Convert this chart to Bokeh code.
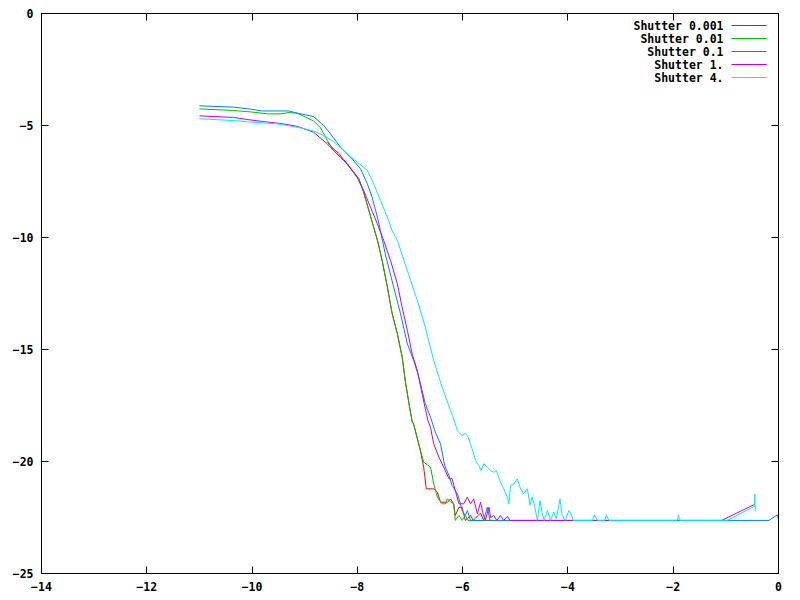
from bokeh.plotting import figure
from bokeh.models import Range1d, FixedTicker, LinearAxis
from bokeh.core.properties import value
from bokeh.embed import file_html
from bokeh.resources import INLINE

series_names = ["Shutter 0.001", "Shutter 0.01", "Shutter 0.1", "Shutter 1.", "Shutter 4."]
series_colors = ["#ff0000", "#00c000", "#0080ff", "#c000ff", "#00eeee"]

x_ticks = [-14, -12, -10, -8, -6, -4, -2, 0]
y_ticks = [-25, -20, -15, -10, -5, 0]

red_x = [-8.57, -8.45, -8.35, -8.26, -8.10, -7.97, -7.89, -7.80, -7.72, -7.62, -7.53, -7.43,
         -7.34, -7.24, -7.15, -7.09, -7.02, -6.96, -6.93, -6.80, -6.74, -6.69, -6.55, -6.48,
         -6.42, -6.29, -6.23, -6.17, -6.14, -6.07, -6.01, -5.98, -5.95, -5.85, -5.80, -5.66,
         -5.60, -5.40]
red_y = [-5.75, -6.05, -6.25, -6.52, -6.98, -7.40, -7.92, -8.62, -9.30, -10.10, -11.00, -12.20,
         -13.38, -14.30, -15.30, -16.40, -17.40, -18.20, -18.35, -19.55, -20.25, -21.22, -21.22, -21.37,
         -21.82, -21.82, -21.67, -21.89, -22.41, -22.04, -22.04, -22.34, -22.63, -22.40, -22.63, -22.30,
         -22.63, -22.63]

green_x = [-11.00, -10.35, -10.00, -9.70, -9.45, -9.30, -9.14, -8.98, -8.83, -8.70, -8.57, -8.45,
           -8.26, -8.10, -7.97, -7.89, -7.80, -7.72, -7.62, -7.53, -7.43, -7.34, -7.24, -7.15,
           -7.09, -7.02, -6.96, -6.93, -6.80, -6.74, -6.67, -6.61, -6.55, -6.48, -6.39, -6.33,
           -6.29, -6.23, -6.17, -6.14, -6.07, -6.01, -5.95, -5.90, -5.50]
green_y = [-4.26, -4.33, -4.40, -4.48, -4.48, -4.42, -4.45, -4.63, -4.80, -5.10, -5.67, -6.12,
           -6.56, -7.00, -7.38, -7.90, -8.65, -9.30, -10.13, -11.03, -12.22, -13.40, -14.30, -15.34,
           -16.38, -17.42, -18.20, -18.32, -19.51, -20.03, -20.15, -20.25, -21.00, -21.59, -21.89, -21.89,
           -21.67, -21.80, -21.89, -22.63, -22.41, -22.63, -22.41, -22.63, -22.63]

blue_x = [-11.00, -10.35, -10.03, -9.81, -9.30, -9.14, -8.83, -8.64, -8.51, -8.32, -8.13, -7.94,
          -7.81, -7.72, -7.62, -7.59, -7.47, -7.31, -7.18, -7.05, -6.93, -6.83, -6.71, -6.61,
          -6.52, -6.42, -6.36, -6.33, -6.26, -6.20, -6.10, -6.04, -6.01, -5.95, -5.91, -5.85,
          -5.60, -5.53, -5.48, -0.18, -0.02, 0.00]
blue_y = [-4.12, -4.18, -4.27, -4.35, -4.35, -4.45, -4.60, -5.00, -5.37, -5.97, -6.41, -6.93,
          -7.60, -8.20, -9.09, -9.39, -10.73, -12.22, -13.40, -14.75, -15.49, -16.24, -17.42, -18.02,
          -18.69, -19.21, -19.96, -20.25, -20.62, -21.07, -21.44, -21.89, -22.19, -22.41, -22.19, -22.63,
          -22.63, -22.04, -22.63, -22.63, -22.38, -22.60]

magenta_x = [-11.00, -10.35, -10.10, -9.80, -9.40, -9.14, -8.83, -8.57, -8.45, -8.19, -8.00, -7.88,
             -7.75, -7.62, -7.50, -7.37, -7.24, -7.15, -7.05, -6.96, -6.86, -6.77, -6.66, -6.61,
             -6.55, -6.45, -6.36, -6.26, -6.20, -6.14, -6.07, -5.98, -5.91, -5.85, -5.79, -5.72,
             -5.66, -5.61, -5.57, -5.50, -5.47, -5.41, -5.35, -5.28, -5.22, -5.15, -5.10, -1.08,
             -0.46]
magenta_y = [-4.57, -4.64, -4.73, -4.82, -4.93, -5.04, -5.30, -5.82, -6.12, -6.71, -7.34, -7.90,
             -8.65, -9.39, -10.13, -11.03, -12.07, -13.11, -14.15, -15.19, -15.94, -16.98, -18.17, -18.47,
             -19.21, -19.81, -20.25, -20.77, -20.77, -21.29, -21.89, -21.89, -21.59, -21.89, -21.67, -22.34,
             -21.82, -22.34, -22.63, -22.04, -22.50, -22.41, -22.63, -22.41, -22.63, -22.45, -22.63, -22.63,
             -21.92]

cyan_x = [-11.00, -10.35, -10.00, -9.50, -9.05, -8.83, -8.64, -8.45, -8.19, -8.00, -7.81, -7.69,
          -7.56, -7.43, -7.34, -7.24, -7.05, -6.86, -6.71, -6.55, -6.39, -6.23, -6.17, -6.10,
          -6.01, -5.95, -5.91, -5.85, -5.79, -5.74, -5.69, -5.65, -5.60, -5.56, -5.47, -5.41,
          -5.36, -5.28, -5.22, -5.15, -5.12, -5.09, -5.03, -4.96, -4.90, -4.84, -4.77, -4.72,
          -4.68, -4.65, -4.58, -4.53, -4.49, -4.45, -4.39, -4.33, -4.27, -4.22, -4.15, -4.11,
          -4.05, -3.98, -3.94, -3.90, -3.53, -3.50, -3.44, -3.30, -3.27, -3.22, -1.92, -1.90,
          -1.88, -0.97, -0.46, -0.45, -0.44]
cyan_y = [-4.70, -4.78, -4.85, -4.93, -5.12, -5.25, -5.45, -5.72, -6.26, -6.64, -7.00, -7.60,
          -8.35, -9.09, -9.69, -10.13, -11.47, -12.81, -14.00, -15.49, -16.68, -17.72, -18.10, -18.62,
          -18.84, -18.75, -18.84, -19.21, -19.66, -20.03, -20.18, -20.40, -20.10, -20.18, -20.40, -20.48,
          -20.40, -20.92, -21.22, -21.59, -21.89, -21.07, -21.00, -20.77, -21.22, -21.44, -21.22, -21.96,
          -21.59, -21.80, -22.63, -21.74, -22.30, -22.63, -22.19, -22.63, -22.26, -22.55, -21.67, -22.40,
          -22.63, -22.19, -22.35, -22.63, -22.63, -22.38, -22.63, -22.63, -22.38, -22.63, -22.63, -22.38,
          -22.63, -22.63, -22.00, -21.47, -22.20]

all_x = [red_x, green_x, blue_x, magenta_x, cyan_x]
all_y = [red_y, green_y, blue_y, magenta_y, cyan_y]

FONT = "DejaVu Sans Mono"
FS = "11.5px"

p = figure(width=792, height=595, output_backend="svg", toolbar_location=None,
           x_range=Range1d(-14, 0), y_range=Range1d(-25, 0),
           min_border_left=41, min_border_right=14, min_border_top=13, min_border_bottom=22)
p.background_fill_color = "white"
p.border_fill_color = "white"
p.outline_line_color = "black"
p.outline_line_width = 1
p.xgrid.visible = False
p.ygrid.visible = False

for ax, ticks in ((p.xaxis[0], x_ticks), (p.yaxis[0], y_ticks)):
    ax.ticker = FixedTicker(ticks=ticks)
    ax.major_tick_in = 7
    ax.major_tick_out = 0
    ax.minor_tick_line_color = None
    ax.axis_line_color = "black"
    ax.major_tick_line_color = "black"
    ax.major_label_text_font = FONT
    ax.major_label_text_font_size = FS
    ax.major_label_text_font_style = "bold"
    ax.major_label_text_color = "black"
    ax.major_label_standoff = 8

for loc, ticks in (("above", x_ticks), ("right", y_ticks)):
    ax = LinearAxis(ticker=FixedTicker(ticks=ticks))
    ax.major_tick_in = 7
    ax.major_tick_out = 0
    ax.minor_tick_line_color = None
    ax.major_label_text_font_size = "0px"
    ax.major_label_text_color = None
    ax.major_label_standoff = 0
    ax.axis_line_color = "black"
    p.add_layout(ax, loc)

for xs, ys, c in zip(all_x, all_y, series_colors):
    p.line(xs, ys, line_color=c, line_width=1)

# gnuplot-style key (text right-aligned, sample line to its right), placed in pixel offsets
FRAME_W, FRAME_H = 737.0, 560.0
def px_x(off):
    return -14 + off * 14.0 / FRAME_W
def px_y(off):
    return -off * 25.0 / FRAME_H

for i, (name, c) in enumerate(zip(series_names, series_colors)):
    yy = px_y(12 + 13 * i)
    p.text(x=[px_x(682)], y=[yy], text=[name], text_align="right", text_baseline="middle",
           text_font=value(FONT), text_font_size=FS, text_font_style="bold", text_color="black")
    p.segment(x0=[px_x(690)], y0=[yy], x1=[px_x(725)], y1=[yy], line_color=c, line_width=1)

open("out.html", "w").write(file_html(p, INLINE))
